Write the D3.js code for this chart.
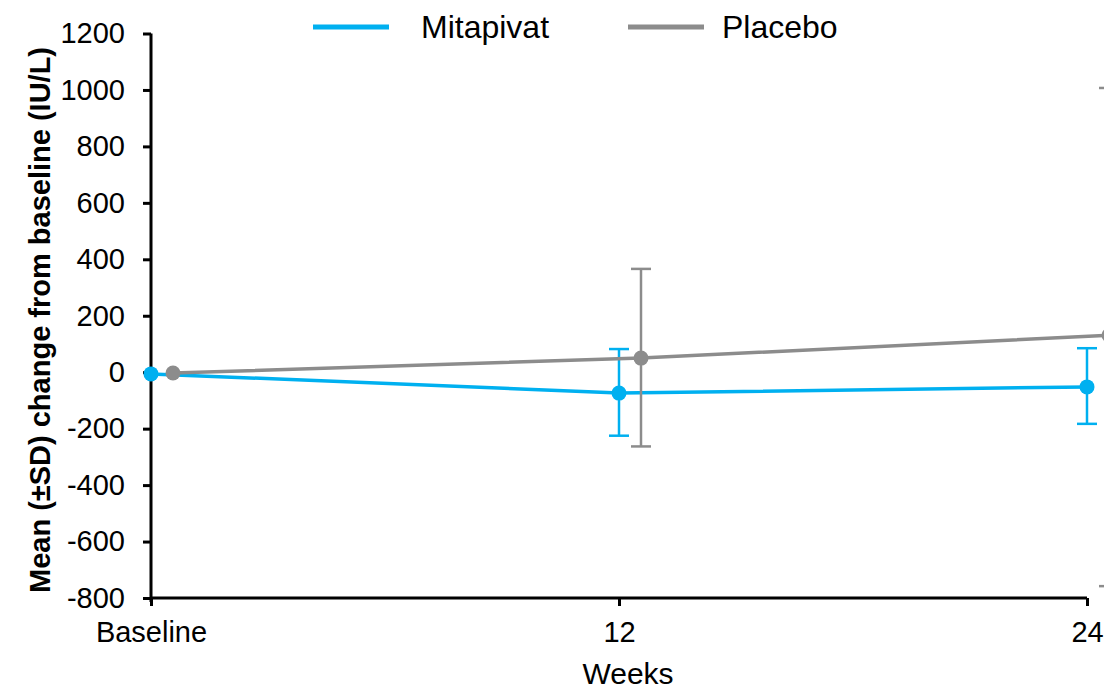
<!DOCTYPE html>
<html>
<head>
<meta charset="utf-8">
<script src="https://cdn.jsdelivr.net/npm/d3@7"></script>
<style>
  html, body { margin: 0; padding: 0; background: #fff; }
  svg { display: block; font-family: "Liberation Sans", Arial, sans-serif; }
</style>
</head>
<body>
<svg id="chart" width="1104" height="690"></svg>
<script>
// Visit weeks and their axis labels
const weeks = [0, 12, 24];
const weekLabels = ["Baseline", "12", "24"];

// Mean change from baseline (IU/L) and SD bounds
const mitapivatMean = [-6, -74, -52];
const mitapivatLow  = [-6, -225, -183];
const mitapivatHigh = [-6, 82, 85];

const placeboMean = [-3, 50, 131];
const placeboLow  = [-3, -263, -758];
const placeboHigh = [-3, 366, 1007];

const yTicks = [1200, 1000, 800, 600, 400, 200, 0, -200, -400, -600, -800];

const seriesNames = ["Mitapivat", "Placebo"];
const seriesColors = ["#00B0F0", "#8C8C8C"];

const svg = d3.select("#chart");

const x = d3.scaleLinear().domain([0, 24]).range([151, 1087]);
const y = d3.scaleLinear().domain([-800, 1200]).range([598, 33.5]);

// Placebo markers are nudged right so the error bars don't overlap
const offsets = [0, 22];

const series = [
  { name: seriesNames[0], color: seriesColors[0], mean: mitapivatMean, low: mitapivatLow, high: mitapivatHigh, dx: offsets[0] },
  { name: seriesNames[1], color: seriesColors[1], mean: placeboMean, low: placeboLow, high: placeboHigh, dx: offsets[1] }
];

const FONT = "Liberation Sans, Arial, sans-serif";

// Y axis
const yAxis = svg.append("g")
  .attr("transform", `translate(${x(0)},0)`)
  .call(d3.axisLeft(y).tickValues(yTicks).tickSize(8).tickPadding(18).tickFormat(d => String(d)));
yAxis.select(".domain").attr("stroke", "#000").attr("stroke-width", 3).attr("d", `M0,${y(1200)}V${y(-800) + 4}`);
yAxis.selectAll(".tick line").attr("stroke", "#000").attr("stroke-width", 3);
yAxis.selectAll(".tick text").attr("font-size", 29).attr("fill", "#000").attr("font-family", FONT);

// X axis
const xAxis = svg.append("g")
  .attr("transform", `translate(0,${y(-800)})`)
  .call(d3.axisBottom(x).tickValues(weeks).tickSize(8).tickPadding(15)
    .tickFormat((d, i) => weekLabels[i]));
xAxis.select(".domain").attr("stroke", "#000").attr("stroke-width", 3).attr("d", `M${x(0)},0H${x(24)}`);
xAxis.selectAll(".tick line").attr("stroke", "#000").attr("stroke-width", 3);
xAxis.selectAll(".tick text").attr("font-size", 29).attr("fill", "#000").attr("font-family", FONT);

// Axis titles
svg.append("text")
  .attr("x", 628).attr("y", 684)
  .attr("text-anchor", "middle")
  .attr("font-size", 30)
  .text("Weeks");

svg.append("text")
  .attr("transform", `translate(50,320) rotate(-90)`)
  .attr("text-anchor", "middle")
  .attr("font-size", 29)
  .attr("font-weight", "bold")
  .text("Mean (±SD) change from baseline (IU/L)");

// Series: lines, error bars, markers
const plot = svg.append("g");
series.forEach(s => {
  const pts = weeks.map((w, i) => ({ w, m: s.mean[i], lo: s.low[i], hi: s.high[i] }));
  const line = d3.line().x(d => x(d.w) + s.dx).y(d => y(d.m));
  const g = plot.append("g");

  g.append("path")
    .datum(pts)
    .attr("d", line)
    .attr("fill", "none")
    .attr("stroke", s.color)
    .attr("stroke-width", 3.5);

  const eb = g.selectAll(".eb").data(pts.filter(d => d.hi !== d.lo)).enter().append("g");
  eb.append("line")
    .attr("x1", d => x(d.w) + s.dx).attr("x2", d => x(d.w) + s.dx)
    .attr("y1", d => y(d.hi)).attr("y2", d => y(d.lo))
    .attr("stroke", s.color).attr("stroke-width", 2.5);
  [d => d.hi, d => d.lo].forEach(f => {
    eb.append("line")
      .attr("x1", d => x(d.w) + s.dx - 10).attr("x2", d => x(d.w) + s.dx + 10)
      .attr("y1", d => y(f(d))).attr("y2", d => y(f(d)))
      .attr("stroke", s.color).attr("stroke-width", 2.5);
  });

  g.selectAll("circle").data(pts).enter().append("circle")
    .attr("cx", d => x(d.w) + s.dx)
    .attr("cy", d => y(d.m))
    .attr("r", 7.5)
    .attr("fill", s.color);
});

// Legend
const legendX = [313, 628];
const legendTextX = [421, 722];
const legend = svg.append("g");
series.forEach((s, i) => {
  legend.append("line")
    .attr("x1", legendX[i]).attr("x2", legendX[i] + 76)
    .attr("y1", 27).attr("y2", 27)
    .attr("stroke", s.color).attr("stroke-width", 5);
  legend.append("text")
    .attr("x", legendTextX[i]).attr("y", 38)
    .attr("font-size", 32)
    .text(s.name);
});
</script>
</body>
</html>
